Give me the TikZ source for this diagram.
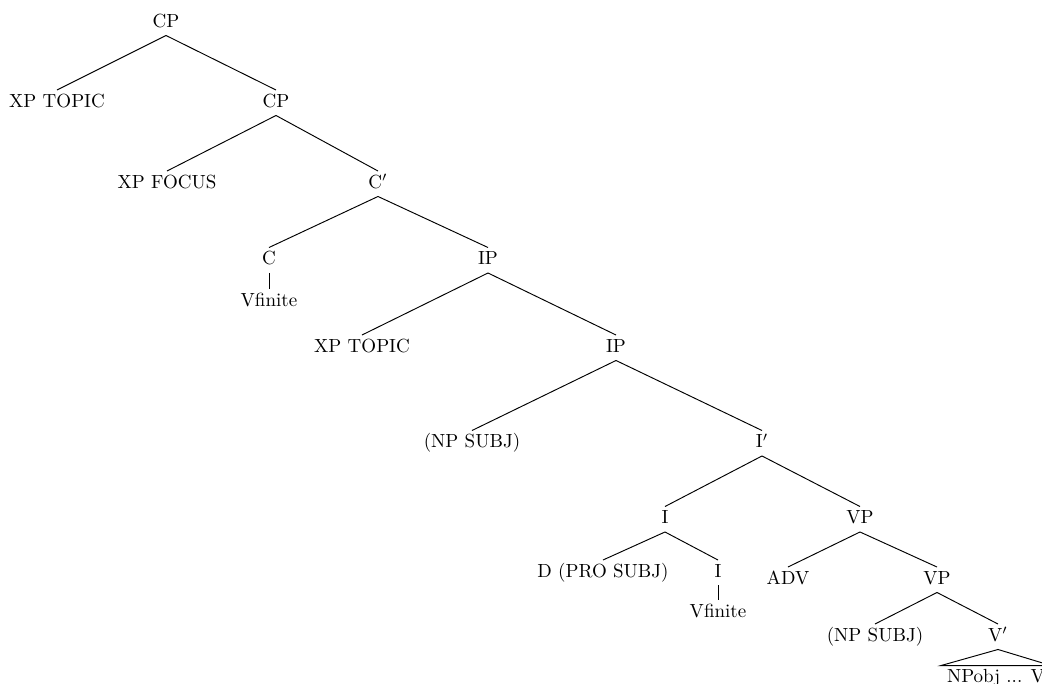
\documentclass[tikz,border=0pt]{standalone}
\begin{document}
\begin{tikzpicture}[x=0.526pt,y=-0.526pt,
  lab/.style={anchor=base,inner sep=2pt,text height=7pt,text depth=2pt},
  leaflab/.style={anchor=base,inner ysep=1.5pt,inner xsep=3pt},
  edge/.style={draw,line width=0.5pt}]
\clip (0,0) rectangle (1042,684);
\path[use as bounding box] (0,0) rectangle (1042,684);
\node[lab] (cp1) at (166,27.5) {CP};
\node[lab] (xt1) at (57,107.5) {XP TOPIC};
\node[lab] (cp2) at (276,107.5) {CP};
\node[lab] (xf) at (167,188.5) {XP FOCUS};
\node[lab] (cb) at (378,188.5) {C$'$};
\node[lab] (c) at (269,265) {C};
\node[lab] (vf1) at (269,306.5) {Vfinite};
\node[lab] (ip1) at (488,265) {IP};
\node[lab] (xt2) at (362,352.5) {XP TOPIC};
\node[lab] (ip2) at (616,352.5) {IP};
\node[lab] (np1) at (472,448) {(NP SUBJ)};
\node[lab] (ib) at (762,448) {I$'$};
\node[lab] (i1) at (665,524) {I};
\node[lab] (vp1) at (860,524) {VP};
\node[lab] (d) at (603,577.5) {D (PRO SUBJ)};
\node[lab] (i2) at (718,577.5) {I};
\node[lab] (vf2) at (718,617.5) {Vfinite};
\node[lab] (adv) at (788,584.5) {ADV};
\node[lab] (vp2) at (937,584.5) {VP};
\node[lab] (np2) at (875,641.5) {(NP SUBJ)};
\node[lab] (vb) at (998,641.5) {V$'$};
\node[leaflab] (leaf) at (996,682) {NPobj ... V};
\path[edge] (cp1.south) -- (xt1.north);
\path[edge] (cp1.south) -- (cp2.north);
\path[edge] (cp2.south) -- (xf.north);
\path[edge] (cp2.south) -- (cb.north);
\path[edge] (cb.south) -- (c.north);
\path[edge] (cb.south) -- (ip1.north);
\path[edge] (c.south) -- (vf1.north);
\path[edge] (ip1.south) -- (xt2.north);
\path[edge] (ip1.south) -- (ip2.north);
\path[edge] (ip2.south) -- (np1.north);
\path[edge] (ip2.south) -- (ib.north);
\path[edge] (ib.south) -- (i1.north);
\path[edge] (ib.south) -- (vp1.north);
\path[edge] (i1.south) -- (d.north);
\path[edge] (i1.south) -- (i2.north);
\path[edge] (i2.south) -- (vf2.north);
\path[edge] (vp1.south) -- (adv.north);
\path[edge] (vp1.south) -- (vp2.north);
\path[edge] (vp2.south) -- (np2.north);
\path[edge] (vp2.south) -- (vb.north);
\path[edge] (vb.south) -- (leaf.north west) -- (leaf.north east) -- cycle;
\end{tikzpicture}
\end{document}
